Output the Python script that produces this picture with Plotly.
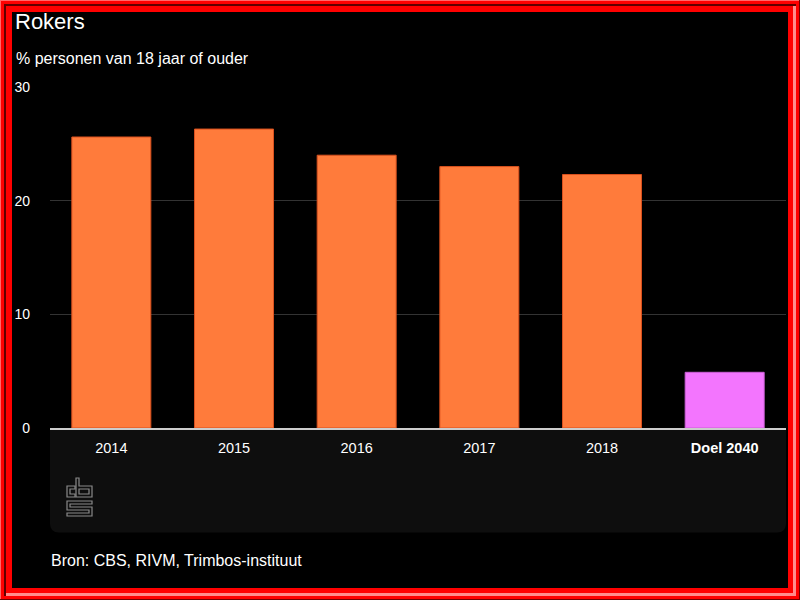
import plotly.graph_objects as go

# ---- data ----
categories = ["2014", "2015", "2016", "2017", "2018", "Doel 2040"]
tick_labels = ["2014", "2015", "2016", "2017", "2018", "<b>Doel 2040</b>"]
values = [25.6, 26.3, 24.0, 23.0, 22.3, 4.9]
bar_colors = ["#FF7B3B"] * 5 + ["#F375FE"]
line_colors = ["#D9501E"] * 5 + ["#CC5ED8"]
y_ticks = [0, 10, 20, 30]

title = "Rokers"
subtitle = "% personen van 18 jaar of ouder"
source = "Bron: CBS, RIVM, Trimbos-instituut"

# ---- layout geometry (pixels) ----
W, H = 800, 600
ML, MR, MT, MB = 50, 14, 87, 172
PW, PH = W - ML - MR, H - MT - MB


def px(X):
    return (X - ML) / PW


def py(Y):
    return (H - MB - Y) / PH


def rect(x0, y0, x1, y1, color, layer="below"):
    return dict(type="rect", xref="paper", yref="paper",
                x0=px(x0), x1=px(x1), y0=py(y0), y1=py(y1),
                fillcolor=color, line=dict(width=0), layer=layer)


def path(pts_list, color, width=1.2, fill=None, layer="above"):
    d = ""
    for pts in pts_list:
        d += "M" + " L".join(f"{px(x):.5f},{py(y):.5f}" for x, y in pts) + " Z "
    return dict(type="path", xref="paper", yref="paper", path=d.strip(),
                line=dict(color=color, width=width),
                fillcolor=fill if fill else "rgba(0,0,0,0)", layer=layer)


fig = go.Figure()
fig.add_trace(go.Bar(
    x=categories, y=values,
    marker=dict(color=bar_colors, line=dict(color=line_colors, width=1)),
    hoverinfo="x+y", showlegend=False,
))

shapes = []
# bottom panel with rounded lower corners
r = 9
x0, x1, y0, y1 = 50, 786, 428, 532.5
panel_path = (f"M{px(x0)},{py(y0)} L{px(x1)},{py(y0)} L{px(x1)},{py(y1 - r)} "
              f"Q{px(x1)},{py(y1)} {px(x1 - r)},{py(y1)} L{px(x0 + r)},{py(y1)} "
              f"Q{px(x0)},{py(y1)} {px(x0)},{py(y1 - r)} Z")
shapes.append(dict(type="path", xref="paper", yref="paper", path=panel_path,
                   fillcolor="#0E0E0E", line=dict(width=0), layer="below"))

# red frame
red = "#FF0000"
shapes += [
    rect(0, 0, 800, 12, red), rect(0, 588, 800, 600, red),
    rect(0, 0, 12, 600, red), rect(788, 0, 800, 600, red),
    # outer light top/left
    rect(0, 0, 800, 1, "#FF6A6A"), rect(0, 0, 1, 600, "#FF6A6A"),
    # dark groove top/left
    rect(4, 4, 796, 6, "#600000"), rect(4, 4, 6, 596, "#600000"),
    # light groove bottom/right
    rect(6, 593, 796, 596, "#FF8C8C"), rect(793, 6, 796, 596, "#FF8C8C"),
    # outer dark bottom/right
    rect(0, 599, 800, 600, "#700000"), rect(799, 0, 800, 600, "#700000"),
]

# CBS logo (outlined)
logo_color = "#8A8A8A"
shapes.append(path([[(67, 486), (75, 486), (75, 489), (70, 489), (70, 494),
                     (75, 494), (75, 497), (67, 497)]], logo_color))
shapes.append(path([[(76, 478), (79, 478), (79, 486), (92, 486), (92, 497), (76, 497)],
                    [(79, 489), (89, 489), (89, 494), (79, 494)]], logo_color))
shapes.append(path([[(67, 501), (92, 501), (92, 504), (70, 504), (70, 507), (92, 507),
                     (92, 516), (67, 516), (67, 513), (89, 513), (89, 510), (67, 510)]],
                   logo_color))

annotations = [
    dict(text=title, xref="paper", yref="paper", x=px(13), y=py(22),
         xanchor="left", yanchor="middle", showarrow=False,
         font=dict(size=22, color="#FFFFFF")),
    dict(text=subtitle, xref="paper", yref="paper", x=px(14), y=py(58),
         xanchor="left", yanchor="middle", showarrow=False,
         font=dict(size=16, color="#FFFFFF")),
    dict(text=source, xref="paper", yref="paper", x=px(49), y=py(560),
         xanchor="left", yanchor="middle", showarrow=False,
         font=dict(size=16, color="#FFFFFF")),
]

fig.update_layout(
    width=W, height=H,
    margin=dict(l=ML, r=MR, t=MT, b=MB, pad=0),
    paper_bgcolor="#000000", plot_bgcolor="rgba(0,0,0,0)",
    font=dict(family="Liberation Sans, Arial, sans-serif", color="#FFFFFF"),
    bargap=0.356,
    shapes=shapes, annotations=annotations,
    xaxis=dict(tickvals=categories, ticktext=tick_labels,
               showline=True, linecolor="#CCCCCC", linewidth=2,
               showgrid=False, ticks="", ticklabelstandoff=6,
               tickfont=dict(size=14.5, color="#FFFFFF"), fixedrange=True),
    yaxis=dict(range=[0, 30], tickvals=y_ticks, showgrid=True,
               gridcolor="#333333", gridwidth=1, zeroline=False,
               showline=False, ticks="", ticklabelstandoff=19,
               tickfont=dict(size=14, color="#FFFFFF"), fixedrange=True),
)

fig.write_html("out.html", config={"displayModeBar": False},
               post_script="document.body.style.margin='0';"
                           "document.body.style.background='#000';")
